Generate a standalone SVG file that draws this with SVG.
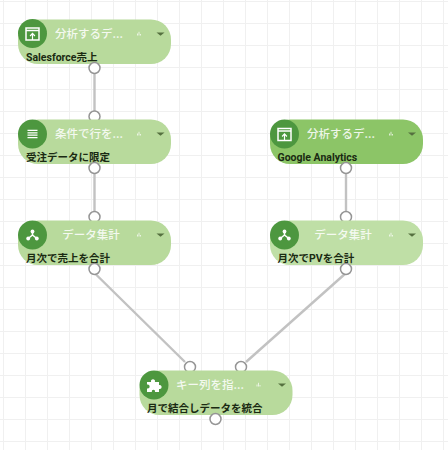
<svg xmlns="http://www.w3.org/2000/svg" width="448" height="450" viewBox="0 0 448 450">
<style>
.grid{stroke:#f0f0f0;stroke-width:1;fill:none}
.body{fill:#b8da9c}
.dark{fill:#8cc567}
.light{fill:#bfdfa6}
.disc{fill:#4d973f}
.title{font:500 11.5px "Noto Sans CJK JP","Noto Sans",sans-serif;fill:#fff;text-anchor:middle;opacity:.85}
.label{font:700 10.5px Roboto,"Noto Sans CJK JP",sans-serif;fill:#1a2a12}
.port{fill:#fff;stroke:#959595;stroke-width:1.5}
.wire{stroke:#c2c2c2;stroke-width:2.4;fill:none}
.ico{fill:none;stroke:#fff;stroke-width:1.5}
.thin{fill:none;stroke:#fff;stroke-width:1.2}
.icf{fill:#fff}
.tri{fill:#55703f}
</style>
<defs>
<g id="upload"><rect x="-6.500" y="-6" width="13" height="12" class="ico"/><path d="M-6.500-3.500H6.500" class="ico"/><path d="M0 6V0M-2.400 2 0-.6 2.400 2" class="thin"/></g>
<g id="agg"><circle cx="0" cy="-3.500" r="1.900" class="icf"/><circle cx="-4.300" cy="3.500" r="1.900" class="icf"/><circle cx="4.300" cy="3.500" r="1.900" class="icf"/><path d="M0-3.500V0L-4.300 3.500M0 0 4.300 3.500" class="ico"/></g>
<g id="rows"><path d="M-5-3.600H5M-5-1.200H5M-5 1.200H5M-5 3.600H5" class="thin"/></g>
<g id="puzzle"><path d="M-6.500-3H-2.400C-3.600-6.600 2.600-6.600 1.400-3H5.500V.2C9-.8 9 5 5.500 4V7H1.400C2.400 4-2.400 4-1.600 7H-6.500V3.400C-3 4.400-3-1.400-6.500-.4Z" class="icf"/></g>
<g id="chart"><rect x="-2" y="-.5" width="1" height="2" class="icf" opacity=".7"/><rect x="-.5" y="-2.200" width="1" height="3.700" class="icf" opacity=".7"/><rect x="1" y="0" width="1" height="1.500" class="icf" opacity=".7"/></g>
<path id="arrow" d="M-4-1.600H4L0 1.800Z" class="tri"/>
</defs>
<rect width="448" height="450" fill="#fff"/>
<path class="grid" d="M3.500 0V450M25.500 0V450M47.500 0V450M69.500 0V450M91.500 0V450M113.500 0V450M135.500 0V450M157.500 0V450M179.500 0V450M201.500 0V450M223.500 0V450M245.500 0V450M267.500 0V450M289.500 0V450M311.500 0V450M333.500 0V450M355.500 0V450M377.500 0V450M399.500 0V450M421.500 0V450M443.500 0V450M0 1.500H448M0 23.500H448M0 45.500H448M0 67.500H448M0 89.500H448M0 111.500H448M0 133.500H448M0 155.500H448M0 177.500H448M0 199.500H448M0 221.500H448M0 243.500H448M0 265.500H448M0 287.500H448M0 309.500H448M0 331.500H448M0 353.500H448M0 375.500H448M0 397.500H448M0 419.500H448M0 441.500H448"/>
<g id="connectors">
<path class="wire" d="M94.500 72V112M94.500 172V213M346 172V213M94.500 273 185 362M346 273 246 362"/>
</g>
<g id="node1"><rect class="body" x="18" y="19.500" width="153" height="44.500" rx="20"/><circle class="disc" cx="32.500" cy="33.500" r="14.500"/><use href="#upload" x="32.500" y="34"/><text class="title" x="89" y="37.500">分析するデ...</text><use href="#chart" x="139" y="34"/><use href="#arrow" x="160.500" y="34"/><text class="label" x="26" y="60.500">Salesforce売上</text><circle class="port" cx="94.500" cy="68" r="5.500"/></g>
<g id="node2"><circle class="port" cx="94.500" cy="116.500" r="5.500"/><rect class="body" x="18" y="119.500" width="153" height="44.500" rx="20"/><circle class="disc" cx="32.500" cy="134" r="14.500"/><use href="#rows" x="32.500" y="134"/><text class="title" x="89" y="137.500">条件で行を...</text><use href="#chart" x="139" y="134"/><use href="#arrow" x="160.500" y="134"/><text class="label" x="26" y="160.500">受注データに限定</text><circle class="port" cx="94.500" cy="168" r="5.500"/></g>
<g id="node3"><circle class="port" cx="94.500" cy="217" r="5.500"/><rect class="body" x="18" y="220.500" width="153" height="44.500" rx="20"/><circle class="disc" cx="32.500" cy="235" r="14.500"/><use href="#agg" x="32.500" y="235"/><text class="title" x="91" y="238.500">データ集計</text><use href="#chart" x="139" y="235"/><use href="#arrow" x="160.500" y="235"/><text class="label" x="26" y="261.500">月次で売上を合計</text><circle class="port" cx="94.500" cy="269" r="5.500"/></g>
<g id="node4"><rect class="dark" x="270" y="119.500" width="153" height="44.500" rx="20"/><circle class="disc" cx="284.500" cy="134" r="14.500"/><use href="#upload" x="284.500" y="134.500"/><text class="title" x="341" y="137.500">分析するデ...</text><use href="#chart" x="391" y="134"/><use href="#arrow" x="412" y="134"/><text class="label" x="277.500" y="160.500">Google Analytics</text><circle class="port" cx="346" cy="168" r="5.500"/></g>
<g id="node5"><circle class="port" cx="346" cy="217" r="5.500"/><rect class="light" x="270" y="220.500" width="153" height="44.500" rx="20"/><circle class="disc" cx="284.500" cy="235" r="14.500"/><use href="#agg" x="284.500" y="235"/><text class="title" x="343" y="238.500">データ集計</text><use href="#chart" x="391" y="235"/><use href="#arrow" x="412" y="235"/><text class="label" x="277.500" y="261.500">月次でPVを合計</text><circle class="port" cx="346" cy="269" r="5.500"/></g>
<g id="node6"><circle class="port" cx="190" cy="367" r="5.500"/><circle class="port" cx="241" cy="367" r="5.500"/><rect class="body" x="139.500" y="370.500" width="153" height="44.500" rx="20"/><circle class="disc" cx="154" cy="385" r="14.500"/><use href="#puzzle" x="153.500" y="385"/><text class="title" x="210" y="388.500">キー列を指...</text><use href="#chart" x="258.500" y="385"/><use href="#arrow" x="282" y="385"/><text class="label" x="147" y="411.500">月で結合しデータを統合</text><circle class="port" cx="215.500" cy="419" r="5.500"/></g>
</svg>
